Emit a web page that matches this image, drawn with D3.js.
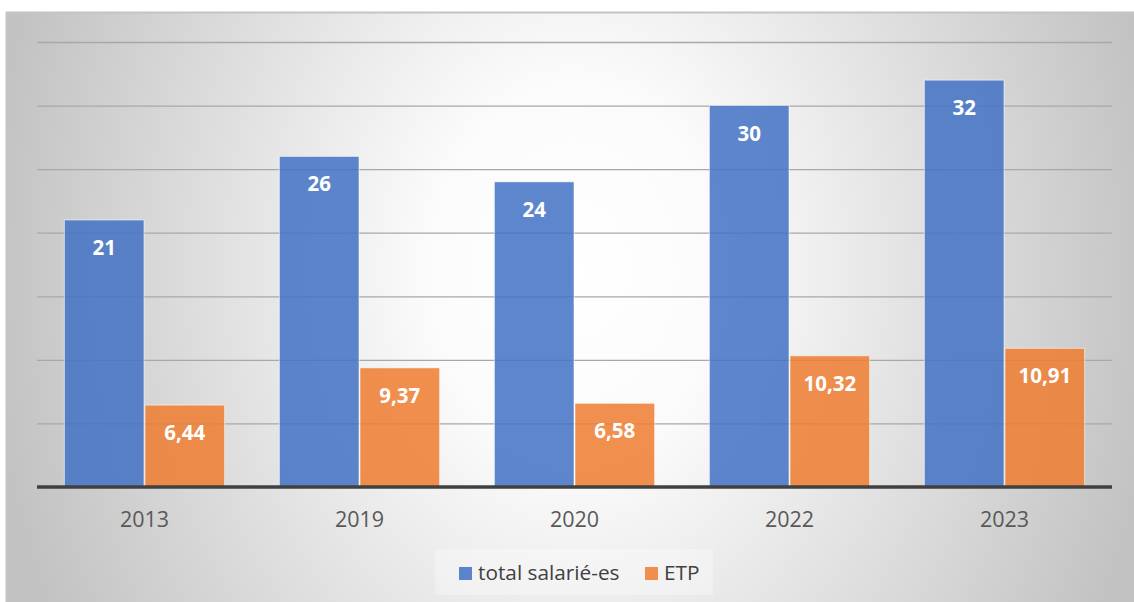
<!DOCTYPE html>
<html>
<head>
<meta charset="utf-8">
<script src="https://cdn.jsdelivr.net/npm/d3@7"></script>
<style>
  html, body { margin: 0; padding: 0; background: #ffffff; }
  svg { display: block; }
</style>
</head>
<body>
<svg id="chart" width="1134" height="602"></svg>
<script>
const categories = ["2013", "2019", "2020", "2022", "2023"];
const seriesNames = ["total salarié-es", "ETP"];
const totalSalaries = [21, 26, 24, 30, 32];
const etp = [6.44, 9.37, 6.58, 10.32, 10.91];
const yTicks = [0, 5, 10, 15, 20, 25, 30, 35];
const colors = ["#4472C4", "#ED7D31"];

const seriesValues = [totalSalaries, etp];
const data = categories.map((c, i) => ({
  cat: c,
  values: seriesNames.map((s, j) => ({ series: s, idx: j, value: seriesValues[j][i] }))
}));

const svg = d3.select("#chart");
const W = 1134, H = 602;
const FONT = "'Open Sans', 'Liberation Sans', sans-serif";

// background gradient
const defs = svg.append("defs");
const grad = defs.append("radialGradient")
  .attr("id", "bg")
  .attr("gradientUnits", "userSpaceOnUse")
  .attr("cx", 0).attr("cy", 0).attr("r", 1)
  .attr("gradientTransform", "translate(575,270) scale(590,760)");
grad.append("stop").attr("offset", "0").attr("stop-color", "#ffffff");
grad.append("stop").attr("offset", "0.25").attr("stop-color", "#fbfbfb");
grad.append("stop").attr("offset", "1").attr("stop-color", "#c2c2c2");

svg.append("rect")
  .attr("x", 6).attr("y", 12).attr("width", W - 6).attr("height", H - 12)
  .attr("fill", "url(#bg)");
svg.append("line").attr("x1", 6).attr("x2", W).attr("y1", 12.5).attr("y2", 12.5)
  .attr("stroke", "#c4c4c4").attr("stroke-width", 2);
svg.append("line").attr("x1", 6.5).attr("x2", 6.5).attr("y1", 12).attr("y2", H)
  .attr("stroke", "#c4c4c4").attr("stroke-width", 2);

const plotLeft = 37, plotRight = 1112, plotBottom = 487, plotTop = 42;

const x0 = d3.scaleBand().domain(categories).range([plotLeft, plotRight])
  .paddingInner(0.25).paddingOuter(0.125);
const x1 = d3.scaleBand().domain(seriesNames).range([0, x0.bandwidth()]);
const y = d3.scaleLinear().domain([0, 35]).range([plotBottom, plotTop]);

// gridlines
const grid = svg.append("g")
  .attr("transform", `translate(${plotLeft},0)`)
  .call(d3.axisLeft(y).tickValues(yTicks.filter(t => t > 0)).tickSize(-(plotRight - plotLeft)).tickFormat(""));
grid.select(".domain").remove();
grid.selectAll(".tick line").attr("stroke", "#a8a8a8").attr("stroke-width", 1.3);

// bars
const groups = svg.append("g").selectAll("g.grp")
  .data(data).join("g")
  .attr("class", "grp")
  .attr("transform", d => `translate(${x0(d.cat)},0)`);

groups.selectAll("rect")
  .data(d => d.values).join("rect")
  .attr("x", d => x1(d.series) + 0.5)
  .attr("width", x1.bandwidth() - 1)
  .attr("y", d => y(d.value))
  .attr("height", d => plotBottom - y(d.value))
  .attr("fill", d => colors[d.idx])
  .attr("fill-opacity", 0.86)
  .attr("stroke", "#ffffff")
  .attr("stroke-opacity", 0.55)
  .attr("stroke-width", 1);

const fmt = v => String(v).replace(".", ",");
groups.selectAll("text")
  .data(d => d.values).join("text")
  .attr("x", d => x1(d.series) + x1.bandwidth() / 2)
  .attr("y", d => y(d.value) + 35)
  .attr("text-anchor", "middle")
  .attr("font-family", FONT)
  .attr("font-weight", "bold")
  .attr("font-size", 20.5)
  .attr("fill", "#ffffff")
  .text(d => fmt(d.value));

// x axis
const xAxis = svg.append("g")
  .attr("transform", `translate(0,${plotBottom})`)
  .call(d3.axisBottom(x0).tickSize(0).tickPadding(0));
xAxis.select(".domain").remove();
xAxis.selectAll(".tick text")
  .attr("dy", null)
  .attr("y", 40)
  .attr("font-family", FONT)
  .attr("font-size", 21.5)
  .attr("fill", "#595959");

svg.append("line")
  .attr("x1", plotLeft).attr("x2", plotRight)
  .attr("y1", plotBottom).attr("y2", plotBottom)
  .attr("stroke", "#404040").attr("stroke-width", 3.5);

// legend
const legend = svg.append("g");
legend.append("rect")
  .attr("x", 435).attr("y", 549).attr("width", 278).attr("height", 46)
  .attr("fill", "#ffffff").attr("fill-opacity", 0.3);
const legendItems = [
  { name: seriesNames[0], color: colors[0], sx: 459, tx: 478 },
  { name: seriesNames[1], color: colors[1], sx: 645, tx: 664 }
];
legend.selectAll("rect.sw").data(legendItems).join("rect")
  .attr("class", "sw")
  .attr("x", d => d.sx).attr("y", 567).attr("width", 13).attr("height", 13)
  .attr("fill", d => d.color).attr("fill-opacity", 0.86);
legend.selectAll("text").data(legendItems).join("text")
  .attr("x", d => d.tx).attr("y", 580)
  .attr("font-family", FONT)
  .attr("font-size", 20.8)
  .attr("fill", "#404040")
  .text(d => d.name);
</script>
</body>
</html>
